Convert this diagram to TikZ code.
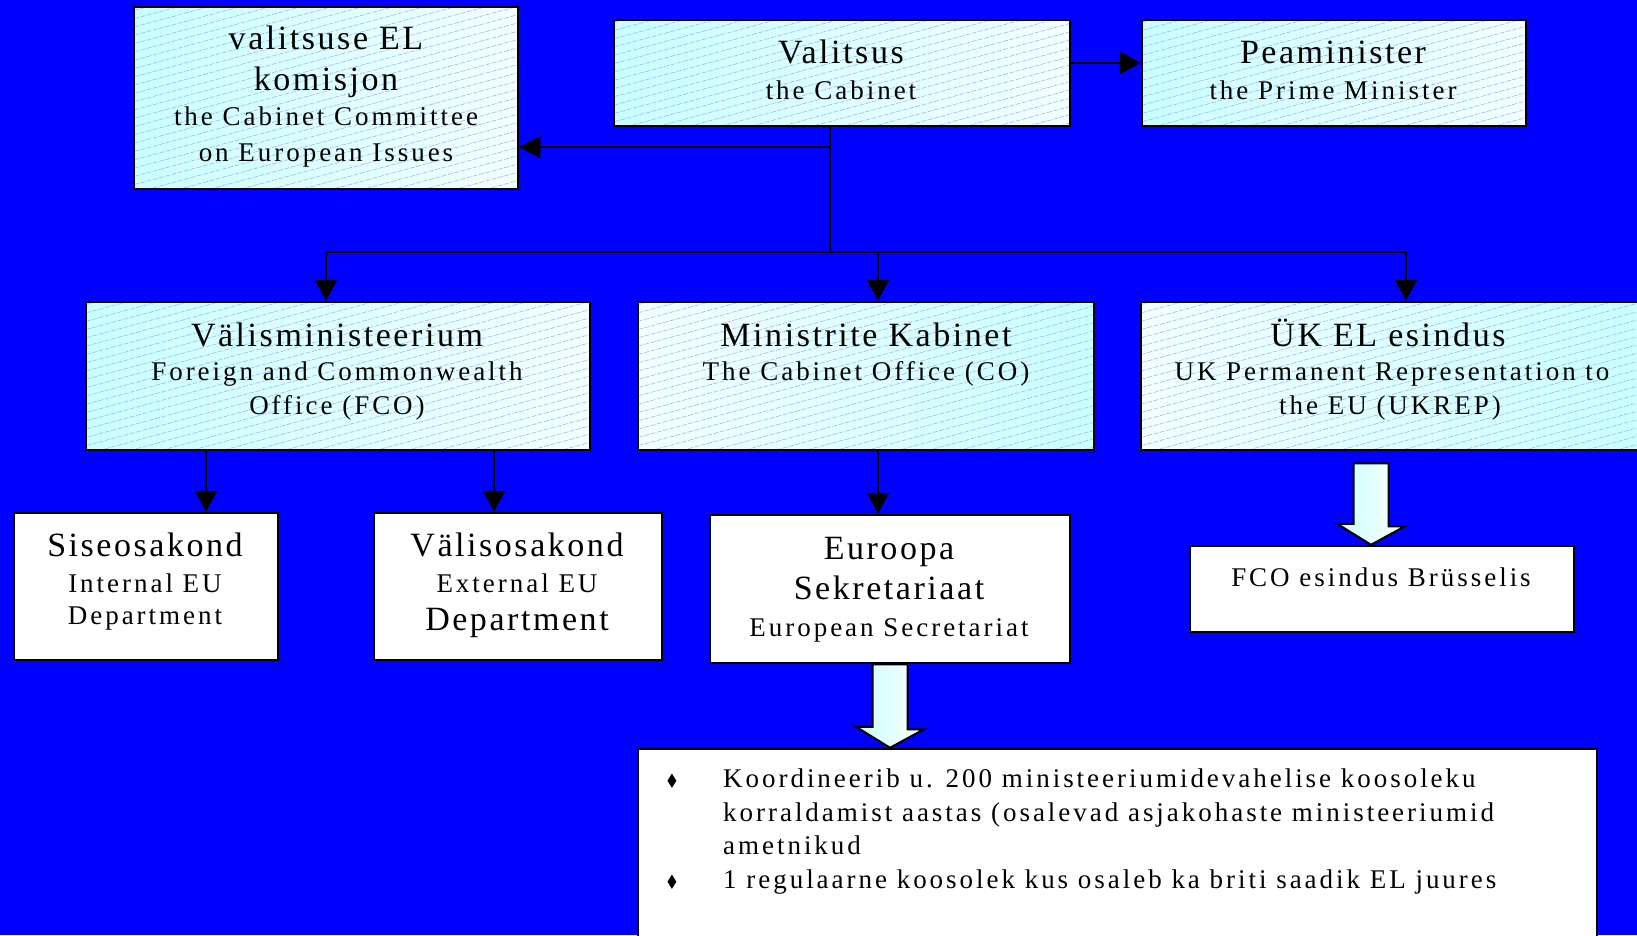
\documentclass[tikz,border=0pt]{standalone}
\usepackage{fontspec}
\setmainfont{Liberation Serif}
\newfontfamily\tsp[LetterSpace=7.5]{Liberation Serif}
\newfontfamily\ssp[LetterSpace=11]{Liberation Serif}
\newfontfamily\dejavu{DejaVu Sans}
\newcommand\ttlf{\tsp\fontsize{34}{40}\selectfont}
\newcommand\subf{\ssp\fontsize{27}{33}\selectfont}
\usetikzlibrary{arrows.meta}
\definecolor{bgblue}{RGB}{0,0,255}
\definecolor{hcyan}{RGB}{200,255,255}
\definecolor{hwhite}{RGB}{242,255,255}
\definecolor{hatchc}{RGB}{170,170,250}
\tikzset{
  hbox/.style={rectangle, draw=black, line width=2.5pt, inner sep=0pt,
    left color=hcyan, right color=hwhite,
    path picture={
      \foreach \c in {-170,-161.7,...,200}
        \draw[hatchc, line width=0.55pt, dash pattern=on 5pt off 1.5pt] ([yshift=\c pt]path picture bounding box.south west) -- ++(600pt,162pt);
    }},
  wbox/.style={rectangle, draw=black, line width=2.5pt, fill=white, inner sep=0pt},
  conn/.style={line width=2pt},
  arr/.style={line width=2pt, -{Triangle[length=21pt,width=22pt]}},
  blk/.style={draw=black, line width=2pt, line join=miter, left color=hcyan, right color=white},
  ttl/.style={anchor=base, font=\ttlf, inner sep=0pt},
  sub/.style={anchor=base, font=\subf, inner sep=0pt},
  bul/.style={anchor=base, font=\dejavu\fontsize{20}{20}\selectfont, inner sep=0pt},
  bt/.style={anchor=base west, font=\subf, inner sep=0pt},
}
\begin{document}
\begin{tikzpicture}[x=1pt,y=-1pt]
\useasboundingbox (0,0) rectangle (1637,935);
\clip (0,0) rectangle (1637,935);
\fill[bgblue] (0,0) rectangle (1637,935);

% boxes
\node[hbox, minimum width=384, minimum height=182] (cee) at (326,98) {};
\node[hbox, minimum width=456, minimum height=106] (val) at (842,73) {};
\node[hbox, minimum width=384, minimum height=106] (pm) at (1334,73) {};
\node[hbox, minimum width=504, minimum height=148] (fco) at (338,376) {};
\node[hbox, minimum width=456, minimum height=148, left color=hwhite, right color=hcyan] (co) at (866,376) {};
\node[hbox, minimum width=500, minimum height=148, left color=hwhite, right color=hcyan] (uk) at (1391,376) {};
\node[wbox, minimum width=264, minimum height=147] (sis) at (146,586.5) {};
\node[wbox, minimum width=288, minimum height=147] (vos) at (518,586.5) {};
\node[wbox, minimum width=360, minimum height=148] (es) at (890,589) {};
\node[wbox, minimum width=384, minimum height=86] (brx) at (1382,589) {};
\node[wbox, minimum width=959, minimum height=211] (bl) at (1117.5,854.5) {};

% texts
\node[ttl] (cee1) at (326,49) {valitsuse EL};
\node[ttl] (cee2) at (326,90) {komisjon};
\node[sub] (cee3) at (326,125) {the Cabinet Committee};
\node[sub] (cee4) at (326,161) {on European Issues};
\node[ttl] (val1) at (841,63) {Valitsus};
\node[sub] (val2) at (841,99) {the Cabinet};
\node[ttl] (pm1) at (1333,63) {Peaminister};
\node[sub] (pm2) at (1333,99) {the Prime Minister};
\node[ttl] (fco1) at (337,346) {Välisministeerium};
\node[sub] (fco2) at (337,380) {Foreign and Commonwealth};
\node[sub] (fco3) at (337,414) {Office (FCO)};
\node[ttl] (co1) at (866,346) {Ministrite Kabinet};
\node[sub] (co2) at (866,380) {The Cabinet Office (CO)};
\node[ttl] (uk1) at (1388,346) {ÜK EL esindus};
\node[sub] (uk2) at (1392,380) {UK Permanent Representation to};
\node[sub] (uk3) at (1390,414) {the EU (UKREP)};
\node[ttl] (sis1) at (145,556) {Siseosakond};
\node[sub] (sis2) at (145,592) {Internal EU};
\node[sub] (sis3) at (145,624) {Department};
\node[ttl] (vos1) at (517,556) {Välisosakond};
\node[sub] (vos2) at (517,592) {External EU};
\node[ttl] (vos3) at (517,630) {Department};
\node[ttl] (es1) at (889,559) {Euroopa};
\node[ttl] (es2) at (889,599) {Sekretariaat};
\node[sub] (es3) at (889,636) {European Secretariat};
\node[sub] (brx1) at (1381,586) {FCO esindus Brüsselis};
\node[bul] (b1) at (672,788) {\scalebox{0.8}[1]{♦}};
\node[bt] (t1) at (723,787) {Koordineerib u. 200 ministeeriumidevahelise koosoleku};
\node[bt] (t2) at (723,821) {korraldamist aastas (osalevad asjakohaste ministeeriumid};
\node[bt] (t3) at (723,854) {ametnikud};
\node[bul] (b2) at (672,889) {\scalebox{0.8}[1]{♦}};
\node[bt] (t4) at (723,888) {1 regulaarne koosolek kus osaleb ka briti saadik EL juures};

% connectors
\draw[arr] ([yshift=10pt]val.east) -- ([yshift=10pt]pm.west);
\coordinate (vs) at ([xshift=-12pt]val.south);
\coordinate (bus) at (830,252);
\draw[conn] (vs) -- (bus);
\draw[arr] (vs) |- ([yshift=-49pt]cee.east);
\coordinate (fcoin) at ([xshift=-12pt]fco.north);
\coordinate (coin) at ([xshift=12pt]co.north);
\coordinate (ukin) at ([xshift=15pt]uk.north);
\draw[conn] (fcoin |- bus) -- (ukin |- bus);
\draw[arr] (fcoin |- bus) -- (fcoin);
\draw[arr] (coin |- bus) -- (coin);
\draw[arr] (ukin |- bus) -- (ukin);
\coordinate (fo1) at ([xshift=-132pt]fco.south);
\coordinate (fo2) at ([xshift=156pt]fco.south);
\draw[arr] (fo1) -- (fo1 |- sis.north);
\draw[arr] (fo2) -- (fo2 |- vos.north);
\coordinate (co1s) at ([xshift=12pt]co.south);
\draw[arr] (co1s) -- (co1s |- es.north);

% block arrows
\coordinate (ukb) at ([xshift=-20pt]uk.south);
\draw[blk] ([xshift=-17.5pt,yshift=-12pt]ukb) -- ++(35,0) -- ++(0,63) -- ++(16.5,0)
  -- (ukb |- brx.north) -- ++(-34,-21) -- ++(16.5,0) -- cycle;
\coordinate (esb) at (es.south);
\draw[blk] ([xshift=-17.5pt]esb) -- ++(35,0) -- ++(0,65) -- ++(16.5,0)
  -- (esb |- bl.north) -- ++(-34,-21) -- ++(16.5,0) -- cycle;
\end{tikzpicture}
\end{document}
